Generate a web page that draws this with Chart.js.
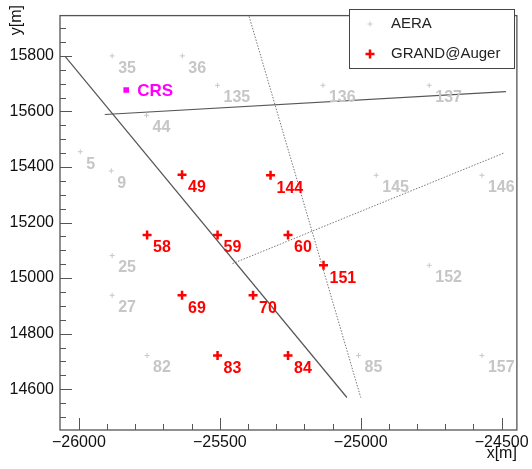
<!DOCTYPE html>
<html>
<head>
<meta charset="utf-8">
<script src="https://cdn.jsdelivr.net/npm/chart.js@4.4.1/dist/chart.umd.min.js"></script>
<style>
  html, body { margin: 0; padding: 0; background: #fff; }
  #wrap { width: 532px; height: 469px; }
</style>
</head>
<body>
<div id="wrap"><canvas id="map"></canvas></div>
<script>
// AERA stations (grey)
const aeraIds = ['35', '36', '135', '136', '137', '44', '5', '9', '145', '146', '25', '27', '82', '85', '152', '157'];
const aeraX = [-25882, -25633, -25508, -25134, -24757, -25760, -25995, -25885, -24945, -24570, -25882, -25882, -25758, -25008, -24757, -24570];
const aeraY = [15800, 15800, 15694, 15694, 15694, 15586, 15455, 15386, 15370, 15370, 15081, 14938, 14721, 14721, 15046, 14721];

// GRAND@Auger stations (red)
const grandIds = ['49', '144', '58', '59', '60', '151', '69', '70', '83', '84'];
const grandX = [-25634, -25320, -25758, -25508, -25258, -25132, -25634, -25382, -25508, -25258];
const grandY = [15372, 15370, 15155, 15155, 15155, 15046, 14938, 14938, 14721, 14721];

// central radio station
const crsX = [-25832];
const crsY = [15677];

// straight lines: [x1, y1, x2, y2]
const solidLines = [
    [-26049, 15798, -25049, 14570],
    [-25908, 15589, -24485, 15671]
];
const dottedLines = [
    [-25396, 15942, -25000, 14570],
    [-25455, 15052, -24490, 15451]
];

const xTicks = [-26000, -25500, -25000, -24500];
const yTicks = [14600, 14800, 15000, 15200, 15400, 15600, 15800];

const FONT = '"Liberation Sans", Arial, Helvetica, sans-serif';

function pts(xs, ys) {
    return xs.map((x, i) => ({x: x, y: ys[i]}));
}

function minus(v) {
    return v < 0 ? '\u2212' + Math.abs(v) : String(v);
}

const lineSets = [];
solidLines.forEach(l => lineSets.push({
    data: [{x: l[0], y: l[1]}, {x: l[2], y: l[3]}],
    showLine: true, pointRadius: 0, borderColor: '#555', borderWidth: 1.2
}));
dottedLines.forEach(l => lineSets.push({
    data: [{x: l[0], y: l[1]}, {x: l[2], y: l[3]}],
    showLine: true, pointRadius: 0, borderColor: '#777', borderWidth: 1, borderDash: [1.5, 1.5]
}));

// station numbers next to the markers
const stationLabels = {
    id: 'stationLabels',
    afterDatasetsDraw(chart) {
        const ctx = chart.ctx;
        ctx.save();
        ctx.textBaseline = 'middle';
        ctx.textAlign = 'left';
        chart.data.datasets.forEach((ds, i) => {
            if (!ds.ids) return;
            ctx.fillStyle = ds.labelColor;
            ctx.font = 'bold ' + ds.labelSize + 'px ' + FONT;
            chart.getDatasetMeta(i).data.forEach((el, j) => {
                ctx.fillText(ds.ids[j], el.x + ds.labelDx, el.y + ds.labelDy);
            });
        });
        ctx.restore();
    }
};

function cross(ctx, x, y, r) {
    ctx.beginPath();
    ctx.moveTo(x - r, y); ctx.lineTo(x + r, y);
    ctx.moveTo(x, y - r); ctx.lineTo(x, y + r);
    ctx.stroke();
}

// ROOT-like frame, inside ticks, y title and boxed legend
const frame = {
    id: 'frame',
    afterDraw(chart) {
        const {ctx, chartArea: a, scales: {x, y}} = chart;
        ctx.save();
        ctx.strokeStyle = '#555';
        ctx.lineWidth = 1.3;
        ctx.strokeRect(a.left, a.top, a.right - a.left, a.bottom - a.top);
        ctx.lineWidth = 1;
        for (let v = -26000; v <= x.max; v += 100) {
            const px = Math.round(x.getPixelForValue(v)) + 0.5;
            const len = v % 500 === 0 ? 12 : 6;
            ctx.beginPath(); ctx.moveTo(px, a.bottom); ctx.lineTo(px, a.bottom - len); ctx.stroke();
        }
        for (let v = 14500; v <= y.max; v += 50) {
            const py = Math.round(y.getPixelForValue(v)) + 0.5;
            const len = v % 200 === 0 ? 12 : 6;
            ctx.beginPath(); ctx.moveTo(a.left, py); ctx.lineTo(a.left + len, py); ctx.stroke();
        }

        // y axis title, top aligned
        ctx.save();
        ctx.translate(17, 5);
        ctx.rotate(-Math.PI / 2);
        ctx.fillStyle = '#111';
        ctx.font = '16px ' + FONT;
        ctx.textAlign = 'right';
        ctx.textBaseline = 'middle';
        ctx.fillText('y[m]', 0, 0);
        ctx.restore();

        // legend
        ctx.fillStyle = '#fff';
        ctx.fillRect(349.5, 9.5, 165, 59);
        ctx.strokeStyle = '#444';
        ctx.strokeRect(349.5, 9.5, 165, 59);
        ctx.strokeStyle = '#c8c8c8';
        ctx.lineWidth = 1;
        cross(ctx, 370, 24, 2.5);
        ctx.strokeStyle = '#ff0000';
        ctx.lineWidth = 2.5;
        cross(ctx, 370, 54, 4.5);
        ctx.fillStyle = '#222';
        ctx.font = '15px ' + FONT;
        ctx.textBaseline = 'middle';
        ctx.fillText('AERA', 391, 24);
        ctx.fillText('GRAND@Auger', 391, 54);
        ctx.restore();
    }
};

new Chart(document.getElementById('map'), {
    type: 'scatter',
    data: {
        datasets: [{
            label: 'GRAND@Auger',
            data: pts(grandX, grandY),
            ids: grandIds, labelColor: '#ff0000', labelSize: 16, labelDx: 6, labelDy: 13,
            pointStyle: 'cross', pointRadius: 4.5, borderWidth: 2.5, borderColor: '#ff0000'
        }, {
            label: 'AERA',
            data: pts(aeraX, aeraY),
            ids: aeraIds, labelColor: '#c6c6c6', labelSize: 16, labelDx: 6, labelDy: 12.5,
            pointStyle: 'cross', pointRadius: 2.5, borderWidth: 1, borderColor: '#c8c8c8'
        }, {
            label: 'CRS',
            data: pts(crsX, crsY),
            ids: ['CRS'], labelColor: '#ff00ff', labelSize: 17, labelDx: 11, labelDy: 1.5,
            pointStyle: 'rect', pointRadius: 4, borderWidth: 0, backgroundColor: '#ff00ff'
        }].concat(lineSets)
    },
    options: {
        responsive: true,
        maintainAspectRatio: false,
        animation: false,
        layout: {padding: {left: 0, right: 12.5, top: 6.5, bottom: 0}},
        plugins: {
            legend: {display: false},
            tooltip: {enabled: false}
        },
        scales: {
            x: {
                type: 'linear',
                min: -26067,
                max: -24446,
                afterBuildTicks: s => { s.ticks = xTicks.map(v => ({value: v})); },
                afterFit: s => { s.height = 39; },
                grid: {display: false, drawTicks: false},
                border: {display: false},
                ticks: {
                    padding: 3, color: '#111', maxRotation: 0,
                    font: {family: FONT, size: 16},
                    callback: v => minus(v)
                },
                title: {
                    display: true, text: 'x[m]', align: 'end', color: '#111',
                    font: {family: FONT, size: 16}, padding: {top: 0, bottom: 6}
                }
            },
            y: {
                type: 'linear',
                min: 14453,
                max: 15945,
                afterBuildTicks: s => { s.ticks = yTicks.map(v => ({value: v})); },
                afterFit: s => { s.width = 60; },
                grid: {display: false, drawTicks: false},
                border: {display: false},
                ticks: {
                    padding: 6, color: '#111',
                    font: {family: FONT, size: 16},
                    callback: v => minus(v)
                }
            }
        }
    },
    plugins: [stationLabels, frame]
});
</script>
</body>
</html>
